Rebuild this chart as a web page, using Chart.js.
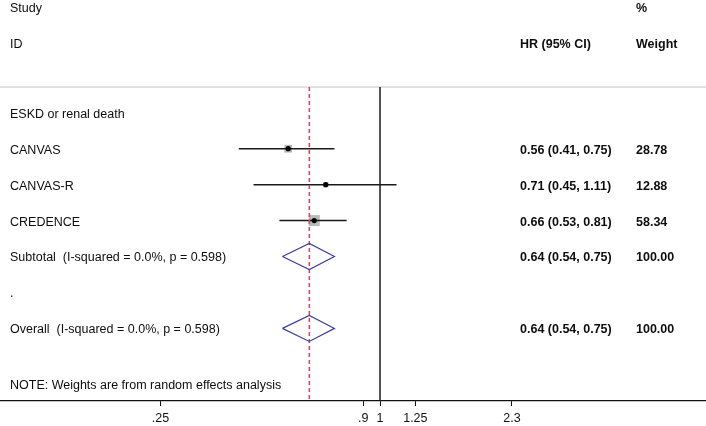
<!DOCTYPE html>
<html>
<head>
<meta charset="utf-8">
<script src="https://cdn.jsdelivr.net/npm/chart.js@4.4.1/dist/chart.umd.min.js"></script>
<style>
    html, body { margin: 0; padding: 0; background: #fff; }
    #wrap { width: 706px; height: 426px; }
</style>
</head>
<body>
<div id="wrap"><canvas id="forest" width="706" height="426"></canvas></div>
<script>
// study data
const studyNames = ["CANVAS", "CANVAS-R", "CREDENCE"];
const studyHr = [0.56, 0.71, 0.66];
const studyLo = [0.41, 0.45, 0.53];
const studyHi = [0.75, 1.11, 0.81];
const studyWeight = [28.78, 12.88, 58.34];

// pooled estimates: subtotal, overall
const pooledNames = ["Subtotal  (I-squared = 0.0%, p = 0.598)", "Overall  (I-squared = 0.0%, p = 0.598)"];
const pooledHr = [0.64, 0.64];
const pooledLo = [0.54, 0.54];
const pooledHi = [0.75, 0.75];
const pooledWeight = [100.0, 100.0];

// axis ticks
const tickValues = [0.25, 0.9, 1, 1.25, 2.3];
const tickLabels = [".25", ".9", "1", "1.25", "2.3"];

const groupName = "ESKD or renal death";
const noteText = "NOTE: Weights are from random effects analysis";

// row positions (row units, top to bottom)
const studyRows = [1, 2, 3];
const pooledRows = [4, 6];
const X_MIN = 0.0908, X_MAX = 7.83;
const Y_MIN = -0.717, Y_MAX = 8.02;

const FONT = "'Liberation Sans', Arial, sans-serif";
const fmt = (e, l, h) => `${e.toFixed(2)} (${l.toFixed(2)}, ${h.toFixed(2)})`;

const ciLines = studyNames.map((n, i) => ({
    label: n + " CI",
    data: [{ x: studyLo[i], y: studyRows[i] }, { x: studyHi[i], y: studyRows[i] }],
    showLine: true, borderColor: "#1a1a1a", borderWidth: 1.5,
    pointRadius: 0, clip: false, order: 4
}));

const diamonds = pooledNames.map((n, i) => {
    const r = pooledRows[i], h = 0.363;
    return {
        label: n,
        data: [
            { x: pooledLo[i], y: r }, { x: pooledHr[i], y: r - h },
            { x: pooledHi[i], y: r }, { x: pooledHr[i], y: r + h },
            { x: pooledLo[i], y: r }
        ],
        showLine: true, borderColor: "#3e3e9c", borderWidth: 1.2,
        pointRadius: 0, fill: false, clip: false, order: 2
    };
});

const textPlugin = {
    id: "forestText",
    afterDraw(chart) {
        const ctx = chart.ctx;
        const y = chart.scales.y;
        // small nudge so the glyphs sit centred on the row like the reference
        const rowY = (r) => y.getPixelForValue(r) + 1.5;
        ctx.save();
        ctx.fillStyle = "#0d0d0d";
        ctx.textBaseline = "middle";
        ctx.textAlign = "left";
        const reg = "12.5px " + FONT;
        const bold = "bold 12.5px " + FONT;
        const xL = 10, xHr = 520, xW = 636;

        ctx.font = reg;
        ctx.fillText("Study", xL, rowY(-2.93));
        ctx.fillText("ID", xL, rowY(-1.95));
        ctx.fillText(groupName, xL, rowY(0));
        studyNames.forEach((n, i) => ctx.fillText(n, xL, rowY(studyRows[i])));
        pooledNames.forEach((n, i) => ctx.fillText(n, xL, rowY(pooledRows[i])));
        ctx.fillText(".", xL, rowY(5));
        ctx.fillText(noteText, xL, rowY(7.56));

        ctx.font = bold;
        ctx.fillText("%", xW, rowY(-2.95));
        ctx.fillText("HR (95% CI)", xHr, rowY(-1.95));
        ctx.fillText("Weight", xW, rowY(-1.95));
        studyNames.forEach((n, i) => {
            const py = rowY(studyRows[i]);
            ctx.fillText(fmt(studyHr[i], studyLo[i], studyHi[i]), xHr, py);
            ctx.fillText(studyWeight[i].toFixed(2), xW, py);
        });
        pooledNames.forEach((n, i) => {
            const py = rowY(pooledRows[i]);
            ctx.fillText(fmt(pooledHr[i], pooledLo[i], pooledHi[i]), xHr, py);
            ctx.fillText(pooledWeight[i].toFixed(2), xW, py);
        });
        ctx.restore();
    }
};

new Chart(document.getElementById("forest"), {
    type: "scatter",
    data: {
        datasets: [
            {
                label: "header rule",
                data: [{ x: X_MIN, y: Y_MIN }, { x: X_MAX, y: Y_MIN }],
                showLine: true, borderColor: "#c4c4c4", borderWidth: 1,
                pointRadius: 0, clip: false, order: 10
            },
            {
                label: "null line",
                data: [{ x: 1, y: Y_MIN }, { x: 1, y: Y_MAX }],
                showLine: true, borderColor: "#1a1a1a", borderWidth: 1.5,
                pointRadius: 0, clip: false, order: 9
            },
            {
                label: "overall line",
                data: [{ x: pooledHr[1], y: Y_MIN }, { x: pooledHr[1], y: Y_MAX }],
                showLine: true, borderColor: "#c8506e", borderWidth: 1.6,
                borderDash: [4, 3], pointRadius: 0, clip: false, order: 3
            },
            {
                label: "weights",
                data: studyHr.map((v, i) => ({ x: v, y: studyRows[i] })),
                pointStyle: "rect",
                pointRadius: studyWeight.map(w => 1.02 * Math.sqrt(w)),
                backgroundColor: "#b9b9b9", borderWidth: 0, order: 6
            },
            ...ciLines,
            {
                label: "estimates",
                data: studyHr.map((v, i) => ({ x: v, y: studyRows[i] })),
                pointRadius: 2.6, backgroundColor: "#000", borderWidth: 0, order: 1
            },
            ...diamonds
        ]
    },
    options: {
        responsive: false,
        animation: false,
        events: [],
        layout: { autoPadding: false, padding: { top: 87, left: 0, right: 0, bottom: 0 } },
        plugins: { legend: { display: false }, tooltip: { enabled: false } },
        scales: {
            x: {
                type: "logarithmic",
                min: X_MIN,
                max: X_MAX,
                afterBuildTicks: (scale) => { scale.ticks = tickValues.map(v => ({ value: v })); },
                afterFit: (scale) => { scale.height = 25; },
                ticks: {
                    autoSkip: false, maxRotation: 0, padding: 5, color: "#111",
                    font: { family: FONT, size: 12.5 },
                    callback: (v) => { const k = tickValues.indexOf(v); return k >= 0 ? tickLabels[k] : ""; }
                },
                grid: { drawOnChartArea: false, drawTicks: true, tickLength: 5, color: "#111", lineWidth: 1 },
                border: { display: true, color: "#111", width: 1.2 }
            },
            y: {
                type: "linear",
                reverse: true,
                min: Y_MIN,
                max: Y_MAX,
                display: false
            }
        }
    },
    plugins: [textPlugin]
});
</script>
</body>
</html>
